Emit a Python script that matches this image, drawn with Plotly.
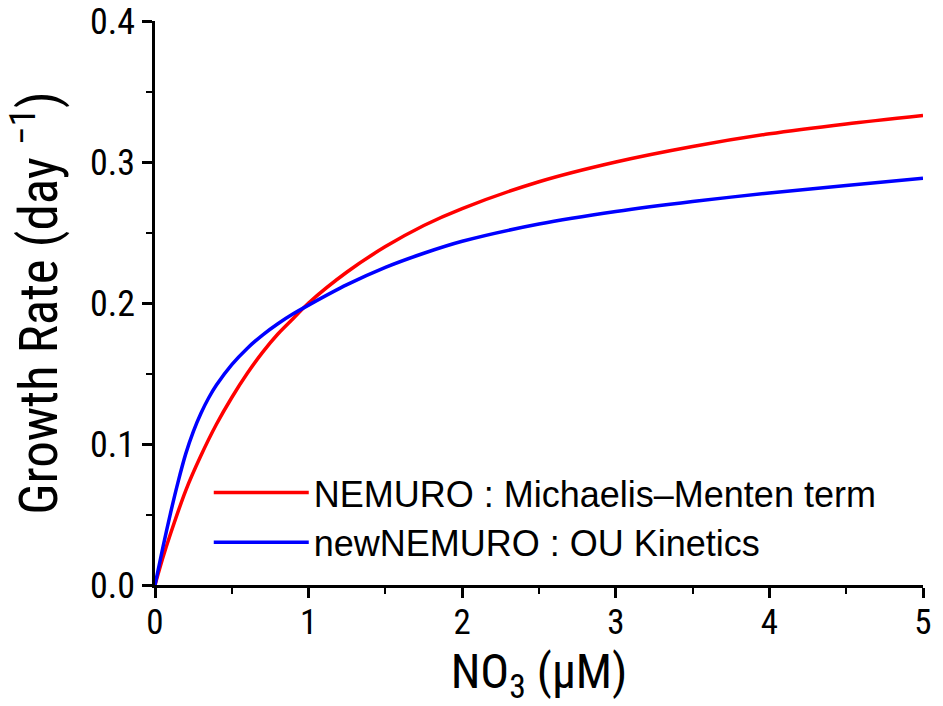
import plotly.graph_objects as go

# Data
red_x = [0, 0.05, 0.1, 0.2, 0.3, 0.4, 0.5, 0.6, 0.7, 0.8, 0.9, 1.0, 1.25, 1.5, 1.75, 2.0, 2.5, 3.0, 3.5, 4.0, 4.5, 5.0]
red_y = [0, 0.019, 0.036, 0.067, 0.092, 0.114, 0.133, 0.150, 0.165, 0.178, 0.189, 0.200, 0.222, 0.240, 0.255, 0.267, 0.286, 0.300, 0.311, 0.320, 0.327, 0.333]

blue_x = [0, 0.05, 0.1, 0.15, 0.2, 0.25, 0.3, 0.35, 0.4, 0.5, 0.6, 0.7, 0.8, 0.9, 1.0, 1.25, 1.5, 1.75, 2.0, 2.5, 3.0, 3.5, 4.0, 4.5, 5.0]
blue_y = [0, 0.026, 0.0505, 0.073, 0.093, 0.109, 0.122, 0.1328, 0.1418, 0.1563, 0.1678, 0.1773, 0.1853, 0.1923, 0.1985, 0.2130, 0.2253, 0.2353, 0.2438, 0.2560, 0.2649, 0.2720, 0.2780, 0.2834, 0.2884]

red_name = "NEMURO : Michaelis\u2013Menten term"
blue_name = "newNEMURO : OU Kinetics"

FONT = "Roboto Condensed, Liberation Sans Narrow, Liberation Sans, Arial, sans-serif"
LFONT = "Liberation Sans, Arial, sans-serif"

fig = go.Figure()
fig.add_trace(go.Scatter(x=red_x, y=red_y, mode="lines", name=red_name,
                         line=dict(color="#ff0000", width=3.5, shape="spline", smoothing=0.8)))
fig.add_trace(go.Scatter(x=blue_x, y=blue_y, mode="lines", name=blue_name,
                         line=dict(color="#0000ff", width=3.5, shape="spline", smoothing=0.8)))

fig.update_layout(
    width=943, height=706,
    margin=dict(l=155, r=20, t=21, b=121),
    paper_bgcolor="white", plot_bgcolor="white",
    font=dict(family=FONT, color="black", size=30),
    legend=dict(x=0.07, y=0.217, xanchor="left", yanchor="top",
                bgcolor="rgba(0,0,0,0)", font=dict(size=36, family=LFONT),
                itemwidth=95, tracegroupgap=0),
    showlegend=True,
)
fig.update_xaxes(range=[0, 5], tickvals=[0, 1, 2, 3, 4, 5], automargin=False,
                 showgrid=False, zeroline=False,
                 showline=True, linecolor="black", linewidth=2.5,
                 ticks="outside", ticklen=10, tickwidth=2.5, tickcolor="black",
                 ticklabelstandoff=-6,
                 minor=dict(dtick=0.5, ticks="outside", ticklen=6, tickwidth=2, tickcolor="black"),
                 tickfont=dict(size=35, family=FONT),
                 title=dict(text="NO<sub>3</sub> (\u03bcM)", font=dict(size=48, family=FONT), standoff=10))
fig.update_yaxes(range=[0, 0.4], tickvals=[0, 0.1, 0.2, 0.3, 0.4], tickformat=".1f", automargin=False,
                 showgrid=False, zeroline=False,
                 showline=True, linecolor="black", linewidth=2.5,
                 ticks="outside", ticklen=10, tickwidth=2.5, tickcolor="black",
                 minor=dict(dtick=0.05, ticks="outside", ticklen=6, tickwidth=2, tickcolor="black"),
                 tickfont=dict(size=36, family=FONT),
                 title=dict(text="Growth Rate (day <sup>\u22121</sup>)", font=dict(size=53, family=FONT), standoff=16))

fig.write_html("out.html")
